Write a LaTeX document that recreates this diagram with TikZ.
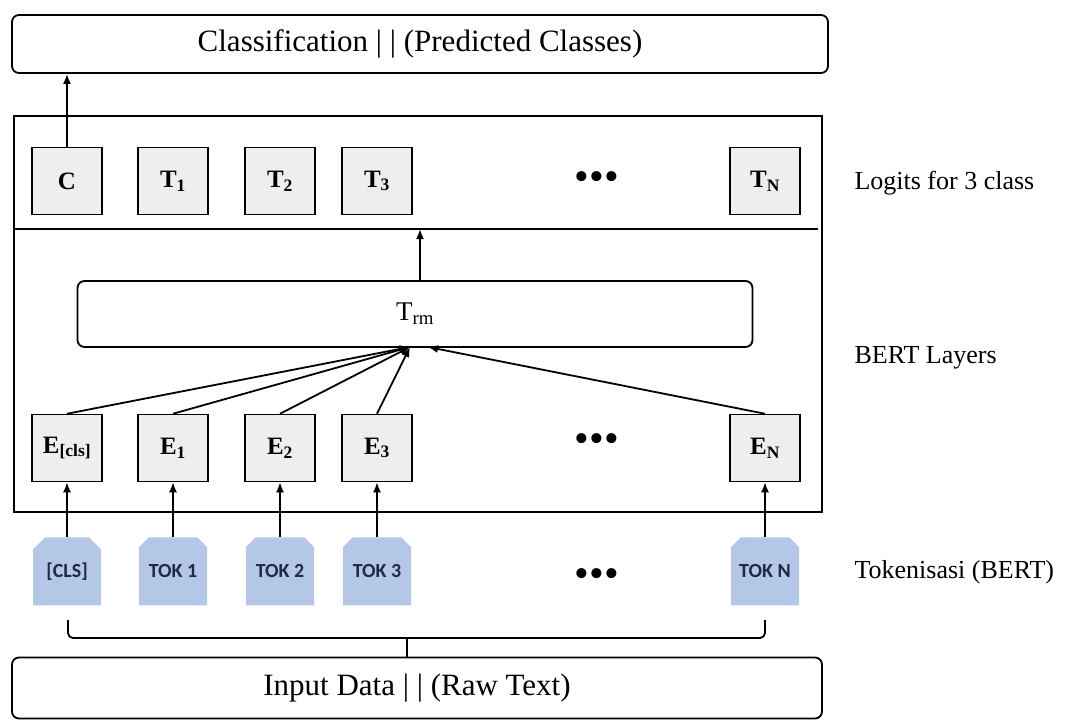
\documentclass[tikz,border=0pt]{standalone}
\usepackage{fontspec}
\setmainfont{Liberation Serif}
\newfontfamily\tokfont{Carlito}
\usetikzlibrary{arrows.meta, positioning, shapes.misc}
\definecolor{tokblue}{HTML}{B4C7E7}
\definecolor{tokink}{HTML}{1F2A44}
\definecolor{cellgray}{HTML}{EEEEEE}

\begin{document}
\begin{tikzpicture}[x=1pt, y=-1pt,
  node distance=55pt,
  bar/.style={rectangle, rounded corners=7pt, draw, line width=1.8pt, fill=white, font=\fontsize{31}{35}\selectfont},
  cell/.style={rectangle, draw, line width=1.5pt, fill=cellgray, minimum width=70pt, minimum height=67pt, inner sep=0pt, font=\bfseries\fontsize{25}{28}\selectfont},
  tok/.style={chamfered rectangle, chamfered rectangle corners={north west, north east}, chamfered rectangle xsep=9pt, fill=tokblue, minimum width=68pt, minimum height=68pt, inner sep=0pt, text=tokink, font=\tokfont\bfseries\fontsize{20}{22}\selectfont},
  side/.style={anchor=west, font=\fontsize{26}{30}\selectfont},
  dots/.style={font=\fontsize{42}{42}\selectfont},
  arrow/.style={-{Latex[length=10pt, width=8pt]}, line width=1.8pt}
]
  \useasboundingbox (0,0) rectangle (1068,720);

  % output
  \node[bar, minimum width=816pt, minimum height=58pt] (cls) at (420,44) {Classification | | (Predicted Classes)};

  % BERT block
  \node[draw, line width=2pt, minimum width=808pt, minimum height=396pt] (bert) at (418,314) {};
  \coordinate (sepL) at (14,229);
  \coordinate (sepR) at (818,229);
  \draw[line width=1.5pt] (sepL) -- (sepR);

  \node[cell] (C) at (67,181) {C};
  \node[cell] (T1) at (173,181) {T\textsubscript{1}};
  \node[cell] (T2) at (280,181) {T\textsubscript{2}};
  \node[cell] (T3) at (377,181) {T\textsubscript{3}};
  \node[dots] (tdots) at (597,181) {•••};
  \node[cell] (TN) at (765,181) {T\textsubscript{N}};

  \node[bar, minimum width=675pt, minimum height=66pt, font=\fontsize{27}{30}\selectfont] (trm) at (415,314) {T\textsubscript{rm}};

  \node[cell] (Ecls) at (67,448) {E\textsubscript{[cls]}};
  \node[cell] (E1) at (173,448) {E\textsubscript{1}};
  \node[cell] (E2) at (280,448) {E\textsubscript{2}};
  \node[cell] (E3) at (377,448) {E\textsubscript{3}};
  \node[dots] (edots) at (597,443) {•••};
  \node[cell] (EN) at (765,448) {E\textsubscript{N}};

  % tokens
  \node[tok, below=of Ecls] (tcls) {[CLS]};
  \node[tok, below=of E1] (t1) {TOK 1};
  \node[tok, below=of E2] (t2) {TOK 2};
  \node[tok, below=of E3] (t3) {TOK 3};
  \node[dots] (kdots) at (597,578) {•••};
  \node[tok, below=of EN] (tN) {TOK N};

  % input
  \node[bar, minimum width=810pt, minimum height=61pt] (inp) at (417,688) {Input Data | | (Raw Text)};

  % side labels
  \node[side] (lbl1) at (851,183) {Logits for 3 class};
  \node[side] (lbl2) at (851,358) {BERT Layers};
  \node[side] (lbl3) at (851,572) {Tokenisasi (BERT)};

  % connectors
  \coordinate (sepmid) at (420,229);
  \coordinate (hub) at (410,347);
  \coordinate (hubN) at (428,347);
  \coordinate (brmid) at (407,638);
  \coordinate (brL) at (68,620);
  \coordinate (brR) at (765,620);

  \draw[arrow] (C.north) -- (C.north |- cls.south);
  \draw[arrow] (sepmid |- trm.north) -- (sepmid);
  \draw[arrow] (Ecls.north) -- (hub);
  \draw[arrow] (E1.north) -- (hub);
  \draw[arrow] (E2.north) -- (hub);
  \draw[arrow] (E3.north) -- (hub);
  \draw[arrow] (EN.north) -- (hubN);
  \draw[arrow] (tcls.north) -- (Ecls.south);
  \draw[arrow] (t1.north) -- (E1.south);
  \draw[arrow] (t2.north) -- (E2.south);
  \draw[arrow] (t3.north) -- (E3.south);
  \draw[arrow] (tN.north) -- (EN.south);

  \draw[line width=1.8pt, rounded corners=5pt] (brL) |- (brmid) -| (brR);
  \draw[line width=1.8pt] (brmid) -- (brmid |- inp.north);
\end{tikzpicture}
\end{document}
